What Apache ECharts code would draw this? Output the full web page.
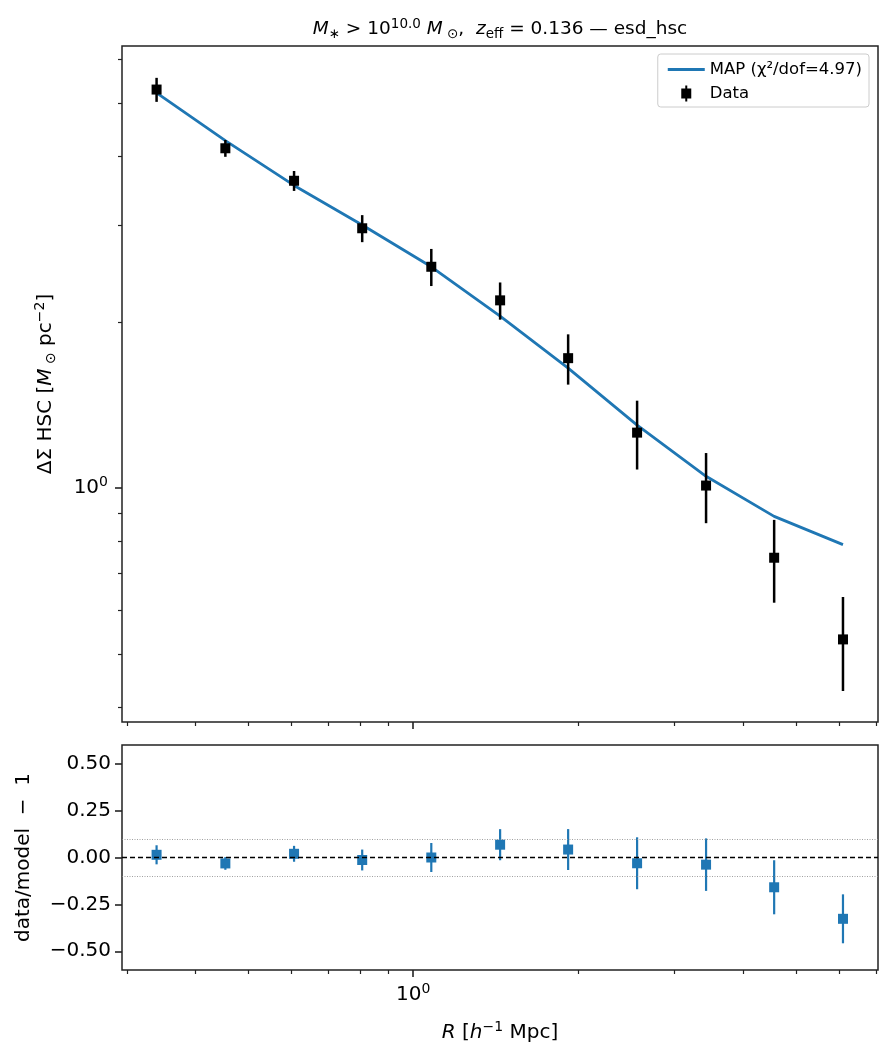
<!DOCTYPE html>
<html>
<head>
<meta charset="utf-8">
<script src="https://cdn.jsdelivr.net/npm/echarts@6/dist/echarts.min.js"></script>
<style>
  html, body { margin: 0; padding: 0; background: #fff; }
  #chart { width: 892px; height: 1060px; }
</style>
</head>
<body>
<div id="chart"></div>
<script>
// radial bins [h^-1 Mpc]
const R = [0.340, 0.454, 0.606, 0.807, 1.079, 1.441, 1.918, 2.563, 3.425, 4.56, 6.09]
// measured ESD and 1-sigma errors
const esd = [5.285, 4.135, 3.61, 2.96, 2.52, 2.19, 1.72, 1.26, 1.01, 0.747, 0.531]
const esdErr = [0.265, 0.145, 0.15, 0.167, 0.195, 0.17, 0.18, 0.18, 0.147, 0.128, 0.103]
// MAP model at the same radii
const model = [5.21, 4.27, 3.54, 3.00, 2.52, 2.05, 1.65, 1.30, 1.05, 0.888, 0.789]

// tick positions
const xMajor = [1]
const xMinor = [0.3, 0.4, 0.5, 0.6, 0.7, 0.8, 0.9, 2, 3, 4, 5, 6, 7]
const yMajor = [1]
const yMinor = [0.4, 0.5, 0.6, 0.7, 0.8, 0.9, 2, 3, 4, 5, 6]
const resTicks = [-0.5, -0.25, 0, 0.25, 0.5]

const FONT = 'DejaVu Sans'
const BLUE = '#1f77b4'
const FS = 20

const resid = esd.map((d, i) => d / model[i] - 1)
const residErr = esdErr.map((s, i) => s / model[i])

const chart = echarts.init(document.getElementById('chart'), null, { renderer: 'canvas' })

const pow10 = { b: { fontSize: FS, fontFamily: FONT, color: '#000', lineHeight: 25 },
                sup: { fontSize: 14, fontFamily: FONT, color: '#000', verticalAlign: 'top', lineHeight: 16 } }
const fmtPow = v => Math.abs(v - 1) < 1e-6 ? '{b|10}{sup|0}' : ''

function logX(grid, ticks, len, width, labels) {
  return {
    type: 'log', gridIndex: grid, min: 0.294, max: 7.056, position: 'bottom',
    axisLine: { show: false, onZero: false }, splitLine: { show: false }, minorTick: { show: false },
    axisTick: { show: true, customValues: ticks, length: len, lineStyle: { color: '#222', width } },
    axisLabel: labels ? { show: true, customValues: [1], formatter: fmtPow, rich: pow10, margin: 12 } : { show: false }
  }
}
function logY(ticks, len, width, labels) {
  return {
    type: 'log', gridIndex: 0, min: 0.376, max: 6.34, position: 'left',
    axisLine: { show: false, onZero: false }, splitLine: { show: false }, minorTick: { show: false },
    axisTick: { show: true, customValues: ticks, length: len, lineStyle: { color: '#222', width } },
    axisLabel: labels ? { show: true, customValues: [1], formatter: fmtPow, rich: pow10, margin: 14 } : { show: false }
  }
}

// error bar + square marker
function errRender(color, lw, size) {
  return (params, api) => {
    const x = api.value(0), y = api.value(1), s = api.value(2)
    const p0 = api.coord([x, y - s]), p1 = api.coord([x, y + s]), c = api.coord([x, y])
    return {
      type: 'group',
      children: [
        { type: 'line', shape: { x1: p0[0], y1: p0[1], x2: p1[0], y2: p1[1] }, style: { stroke: color, lineWidth: lw } },
        { type: 'rect', shape: { x: c[0] - size / 2, y: c[1] - size / 2, width: size, height: size }, style: { fill: color } }
      ]
    }
  }
}

const supR = { fontSize: 14, fontFamily: FONT, color: '#000', verticalAlign: 'top', lineHeight: 14 }
const subR = { fontSize: 14, fontFamily: FONT, color: '#000', verticalAlign: 'bottom', lineHeight: 14 }
const itR = { fontSize: FS, fontFamily: FONT, fontStyle: 'italic', color: '#000', lineHeight: 25 }

chart.setOption({
  animation: false,
  backgroundColor: '#fff',
  title: {
    left: 495, top: 12, textAlign: 'center',
    text: '{i|M}{sub|∗} > 10{sup|10.0} {i|M}{sub| ⊙},  {i|z}{sub|eff} = 0.136 — esd_hsc',
    textStyle: {
      fontSize: 18.5, fontFamily: FONT, fontWeight: 'normal', color: '#000', lineHeight: 24,
      rich: {
        i: { fontSize: 18.5, fontFamily: FONT, fontStyle: 'italic', color: '#000', lineHeight: 24 },
        sup: { fontSize: 13.5, fontFamily: FONT, color: '#000', verticalAlign: 'top', lineHeight: 14 },
        sub: { fontSize: 13.5, fontFamily: FONT, color: '#000', verticalAlign: 'bottom', lineHeight: 14 }
      }
    }
  },
  legend: {
    orient: 'vertical', right: 23, top: 54,
    padding: [7, 7, 5, 10], itemGap: 7, itemWidth: 37, itemHeight: 16,
    backgroundColor: '#fff', borderColor: '#ccc', borderWidth: 1, borderRadius: 3,
    textStyle: { fontSize: 16.5, fontFamily: FONT, color: '#000' },
    data: [
      { name: 'MAP (χ²/dof=4.97)', icon: 'path://M0,0H37V2.8H0Z' },
      { name: 'Data', icon: 'path://M4,0H6V3H10V13H6V16H4V13H0V3H4Z' }
    ]
  },
  grid: [
    { left: 122, top: 46, width: 756, height: 676, show: true, borderColor: '#222', borderWidth: 1.5, backgroundColor: '#fff' },
    { left: 122, top: 745, width: 756, height: 225, show: true, borderColor: '#222', borderWidth: 1.5, backgroundColor: '#fff' }
  ],
  xAxis: [
    logX(0, xMajor, 7, 1.6, false),
    logX(0, xMinor, 4, 1.2, false),
    Object.assign(logX(1, xMajor, 7, 1.6, true), {
      name: '{i|R} [{i|h}{sup|−1} Mpc]', nameLocation: 'middle', nameGap: 50,
      nameTextStyle: { fontSize: FS, fontFamily: FONT, color: '#000', lineHeight: 25, rich: { i: itR, sup: supR } }
    }),
    logX(1, xMinor, 4, 1.2, false)
  ],
  yAxis: [
    Object.assign(logY(yMajor, 7, 1.6, true), {
      name: 'ΔΣ HSC [{i|M}{sub| ⊙} pc{sup|−2}]', nameLocation: 'middle', nameRotate: 90, nameGap: 64,
      nameTextStyle: { fontSize: FS, fontFamily: FONT, color: '#000', lineHeight: 25, rich: { i: itR, sup: supR, sub: subR } }
    }),
    logY(yMinor, 4, 1.2, false),
    {
      type: 'value', gridIndex: 1, min: -0.6, max: 0.6, position: 'left',
      axisLine: { show: false }, splitLine: { show: false },
      axisTick: { show: true, customValues: resTicks, length: 7, lineStyle: { color: '#222', width: 1.6 } },
      axisLabel: { show: true, customValues: resTicks, margin: 11, fontSize: FS, fontFamily: FONT, color: '#000',
        formatter: v => v.toFixed(2).replace('-', '−') },
      name: 'data/model  −  1', nameLocation: 'middle', nameRotate: 90, nameGap: 88,
      nameTextStyle: { fontSize: FS, fontFamily: FONT, color: '#000' }
    }
  ],
  series: [
    {
      name: 'MAP (χ²/dof=4.97)', type: 'line', xAxisIndex: 0, yAxisIndex: 0,
      data: R.map((r, i) => [r, model[i]]),
      symbol: 'none', lineStyle: { color: BLUE, width: 2.8 }, itemStyle: { color: BLUE }, z: 2
    },
    {
      name: 'Data', type: 'custom', xAxisIndex: 0, yAxisIndex: 0,
      data: R.map((r, i) => [r, esd[i], esdErr[i]]),
      renderItem: errRender('#000', 2.5, 10), itemStyle: { color: '#000' }, z: 3
    },
    {
      name: 'resid', type: 'custom', xAxisIndex: 2, yAxisIndex: 2,
      data: R.map((r, i) => [r, resid[i], residErr[i]]),
      renderItem: errRender(BLUE, 2.2, 10), itemStyle: { color: BLUE }, z: 3,
      markLine: {
        silent: true, symbol: 'none', label: { show: false },
        data: [
          { yAxis: 0, lineStyle: { color: '#000', type: [5, 3], width: 1.3 } },
          { yAxis: 0.1, lineStyle: { color: '#888', type: [1, 1.5], width: 0.8 } },
          { yAxis: -0.1, lineStyle: { color: '#888', type: [1, 1.5], width: 0.8 } }
        ]
      }
    }
  ]
})
</script>
</body>
</html>
